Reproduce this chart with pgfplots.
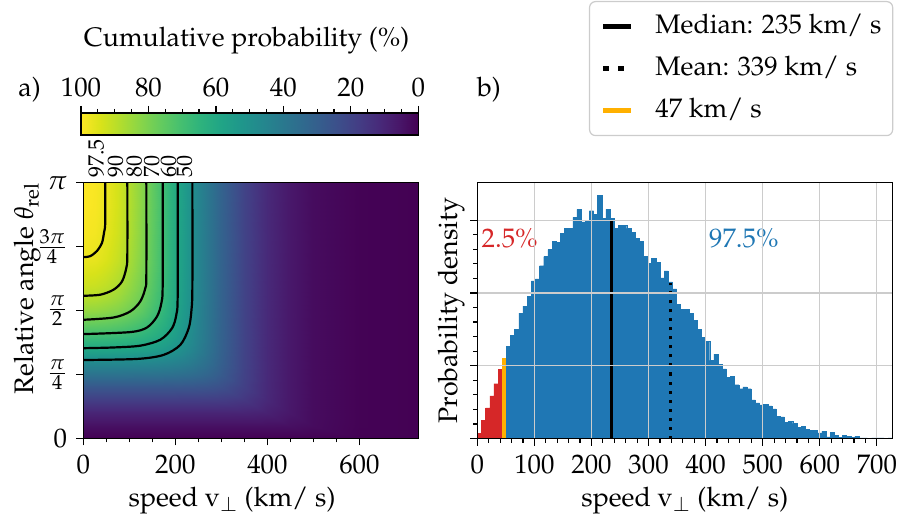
\documentclass[border=0pt]{standalone}
\usepackage[T1]{fontenc}
\usepackage{mathpazo}
\usepackage{pgfplots}
\pgfplotsset{compat=1.18}

\definecolor{histblue}{HTML}{1F77B4}
\definecolor{histred}{HTML}{D62728}
\definecolor{gold}{HTML}{FFB000}

\pgfplotsset{
  basestyle/.style={
    scale only axis,
    tick align=outside,
    major tick length=3.5pt,
    minor tick length=2pt,
    every tick/.append style={black, line width=0.6pt},
    axis line style={line width=0.6pt},
    xtick pos=left, ytick pos=left,
  },
}

\begin{document}
\fontsize{13.4}{16}\selectfont
\begin{tikzpicture}
\path[use as bounding box] (0pt,0pt) rectangle (451.5pt,259.5pt);

% ---------------- colour bar ----------------
\begin{axis}[
  at={(40.5pt,192pt)}, anchor=south west,
  width=168.65pt, height=11pt, scale only axis,
  xmin=0, xmax=100, ymin=0, ymax=1, x dir=reverse,
  colormap/viridis, point meta min=0, point meta max=100,
  ytick=\empty,
  xtick={0,20,...,100}, minor x tick num=3,
  xtick pos=right, xticklabel pos=right,
  tick align=outside, major tick length=3.5pt, minor tick length=2pt,
  every tick/.append style={black, line width=0.6pt},
  axis line style={line width=0.6pt},
  xlabel={Cumulative probability (\%)},
  xlabel style={at={(axis description cs:0.491,4.0)}, anchor=base},
  axis on top,
]
\addplot[surf, shader=interp, mesh/cols=11, mesh/rows=2, point meta=x]
  table[row sep=\\] {
  x y \\
  0 0 \\ 10 0 \\ 20 0 \\ 30 0 \\ 40 0 \\ 50 0 \\ 60 0 \\ 70 0 \\ 80 0 \\ 90 0 \\ 100 0 \\
  0 1 \\ 10 1 \\ 20 1 \\ 30 1 \\ 40 1 \\ 50 1 \\ 60 1 \\ 70 1 \\ 80 1 \\ 90 1 \\ 100 1 \\
};
\end{axis}

% ---------------- a) cumulative probability map ----------------
\begin{axis}[
  basestyle,
  at={(41.65pt,40.25pt)}, anchor=south west,
  width=167.5pt, height=127.9pt,
  xmin=0, xmax=728, ymin=0, ymax=3.1416,
  colormap/viridis, point meta min=0, point meta max=100,
  xtick={0,200,400,600}, minor x tick num=3,
  ytick={0,0.785398,1.570796,2.356194,3.141593},
  yticklabels={$0$,$\frac{\pi}{4}$,$\frac{\pi}{2}$,$\frac{3\pi}{4}$,$\pi$},
  minor y tick num=3,
  xlabel={speed v$_\perp$ (km/ s)},
  ylabel={Relative angle $\theta_{\mathrm{rel}}$},
  xlabel style={at={(axis description cs:0.444,-0.2639)}, anchor=base},
  ylabel style={at={(axis description cs:-0.1501,0.586)}, anchor=base},
  axis on top, clip mode=individual,
]
\addplot[surf, shader=interp, mesh/cols=19, mesh/rows=17, point meta=explicit]
  table[x=v, y=t, meta=f, row sep=\\] {
v t f \\
0 0 0 \\ 25 0 0 \\ 50 0 0 \\ 75 0 0 \\ 100 0 0 \\ 125 0 0 \\ 150 0 0 \\ 175 0 0 \\ 200 0 0 \\ 225 0 0 \\ 250 0 0 \\ 275 0 0 \\ 300 0 0 \\ 350 0 0 \\ 400 0 0 \\ 450 0 0 \\ 500 0 0 \\ 600 0 0 \\ 728 0 0 \\
0 0.1571 4.0 \\ 25 0.1571 4.0 \\ 50 0.1571 4.0 \\ 75 0.1571 4.0 \\ 100 0.1571 4.0 \\ 125 0.1571 4.0 \\ 150 0.1571 4.0 \\ 175 0.1571 4.0 \\ 200 0.1571 4.0 \\ 225 0.1571 4.0 \\ 250 0.1571 4.0 \\ 275 0.1571 4.0 \\ 300 0.1571 4.0 \\ 350 0.1571 4.0 \\ 400 0.1571 4.0 \\ 450 0.1571 3.8 \\ 500 0.1571 2.7 \\ 600 0.1571 0.4 \\ 728 0.1571 0 \\
0 0.3142 10 \\ 25 0.3142 10 \\ 50 0.3142 10 \\ 75 0.3142 10 \\ 100 0.3142 10 \\ 125 0.3142 10 \\ 150 0.3142 10 \\ 175 0.3142 10 \\ 200 0.3142 10 \\ 225 0.3142 10 \\ 250 0.3142 10 \\ 275 0.3142 9.9 \\ 300 0.3142 9.9 \\ 350 0.3142 9.8 \\ 400 0.3142 8.9 \\ 450 0.3142 6.0 \\ 500 0.3142 2.9 \\ 600 0.3142 0.4 \\ 728 0.3142 0 \\
0 0.4712 18 \\ 25 0.4712 18 \\ 50 0.4712 18 \\ 75 0.4712 18 \\ 100 0.4712 18 \\ 125 0.4712 18 \\ 150 0.4712 18 \\ 175 0.4712 18 \\ 200 0.4712 18 \\ 225 0.4712 17.9 \\ 250 0.4712 17.9 \\ 275 0.4712 17.8 \\ 300 0.4712 17.5 \\ 350 0.4712 15.8 \\ 400 0.4712 11.1 \\ 450 0.4712 6.2 \\ 500 0.4712 2.9 \\ 600 0.4712 0.4 \\ 728 0.4712 0 \\
0 0.6283 27 \\ 25 0.6283 27 \\ 50 0.6283 27 \\ 75 0.6283 27 \\ 100 0.6283 27 \\ 125 0.6283 27 \\ 150 0.6283 26.9 \\ 175 0.6283 26.9 \\ 200 0.6283 26.8 \\ 225 0.6283 26.6 \\ 250 0.6283 26.3 \\ 275 0.6283 25.6 \\ 300 0.6283 24.2 \\ 350 0.6283 18.7 \\ 400 0.6283 11.4 \\ 450 0.6283 6.2 \\ 500 0.6283 2.9 \\ 600 0.6283 0.4 \\ 728 0.6283 0 \\
0 0.7854 37 \\ 25 0.7854 37 \\ 50 0.7854 37 \\ 75 0.7854 37 \\ 100 0.7854 36.9 \\ 125 0.7854 36.8 \\ 150 0.7854 36.7 \\ 175 0.7854 36.4 \\ 200 0.7854 36.0 \\ 225 0.7854 35.2 \\ 250 0.7854 33.9 \\ 275 0.7854 31.6 \\ 300 0.7854 28.3 \\ 350 0.7854 19.5 \\ 400 0.7854 11.5 \\ 450 0.7854 6.2 \\ 500 0.7854 2.9 \\ 600 0.7854 0.4 \\ 728 0.7854 0 \\
0 0.9425 47.5 \\ 25 0.9425 47.5 \\ 50 0.9425 47.4 \\ 75 0.9425 47.3 \\ 100 0.9425 47.1 \\ 125 0.9425 46.8 \\ 150 0.9425 46.4 \\ 175 0.9425 45.6 \\ 200 0.9425 44.3 \\ 225 0.9425 42.3 \\ 250 0.9425 39.2 \\ 275 0.9425 35.1 \\ 300 0.9425 30.1 \\ 350 0.9425 19.8 \\ 400 0.9425 11.5 \\ 450 0.9425 6.2 \\ 500 0.9425 2.9 \\ 600 0.9425 0.4 \\ 728 0.9425 0 \\
0 1.0996 59.5 \\ 25 1.0996 59.5 \\ 50 1.0996 59.3 \\ 75 1.0996 58.9 \\ 100 1.0996 58.4 \\ 125 1.0996 57.6 \\ 150 1.0996 56.3 \\ 175 1.0996 54.3 \\ 200 1.0996 51.5 \\ 225 1.0996 47.5 \\ 250 1.0996 42.6 \\ 275 1.0996 36.8 \\ 300 1.0996 30.9 \\ 350 1.0996 19.9 \\ 400 1.0996 11.5 \\ 450 1.0996 6.2 \\ 500 1.0996 2.9 \\ 600 1.0996 0.4 \\ 728 1.0996 0 \\
0 1.2566 69 \\ 25 1.2566 68.9 \\ 50 1.2566 68.5 \\ 75 1.2566 67.8 \\ 100 1.2566 66.8 \\ 125 1.2566 65.2 \\ 150 1.2566 62.9 \\ 175 1.2566 59.6 \\ 200 1.2566 55.4 \\ 225 1.2566 49.9 \\ 250 1.2566 43.9 \\ 275 1.2566 37.4 \\ 300 1.2566 31.1 \\ 350 1.2566 19.9 \\ 400 1.2566 11.5 \\ 450 1.2566 6.2 \\ 500 1.2566 2.9 \\ 600 1.2566 0.4 \\ 728 1.2566 0 \\
0 1.4137 77 \\ 25 1.4137 76.8 \\ 50 1.4137 76.2 \\ 75 1.4137 75 \\ 100 1.4137 73.3 \\ 125 1.4137 70.8 \\ 150 1.4137 67.4 \\ 175 1.4137 63 \\ 200 1.4137 57.6 \\ 225 1.4137 51.2 \\ 250 1.4137 44.6 \\ 275 1.4137 37.7 \\ 300 1.4137 31.3 \\ 350 1.4137 19.9 \\ 400 1.4137 11.5 \\ 450 1.4137 6.2 \\ 500 1.4137 2.9 \\ 600 1.4137 0.4 \\ 728 1.4137 0 \\
0 1.5708 84 \\ 25 1.5708 83.7 \\ 50 1.5708 82.7 \\ 75 1.5708 81.1 \\ 100 1.5708 78.6 \\ 125 1.5708 75.2 \\ 150 1.5708 70.7 \\ 175 1.5708 65.2 \\ 200 1.5708 59 \\ 225 1.5708 52 \\ 250 1.5708 44.9 \\ 275 1.5708 37.9 \\ 300 1.5708 31.3 \\ 350 1.5708 19.9 \\ 400 1.5708 11.5 \\ 450 1.5708 6.2 \\ 500 1.5708 2.9 \\ 600 1.5708 0.4 \\ 728 1.5708 0 \\
0 1.7279 89 \\ 25 1.7279 88.6 \\ 50 1.7279 87.3 \\ 75 1.7279 85.2 \\ 100 1.7279 82 \\ 125 1.7279 77.9 \\ 150 1.7279 72.6 \\ 175 1.7279 66.5 \\ 200 1.7279 59.8 \\ 225 1.7279 52.4 \\ 250 1.7279 45.1 \\ 275 1.7279 38 \\ 300 1.7279 31.3 \\ 350 1.7279 19.9 \\ 400 1.7279 11.5 \\ 450 1.7279 6.2 \\ 500 1.7279 2.9 \\ 600 1.7279 0.4 \\ 728 1.7279 0 \\
0 1.8850 92.5 \\ 25 1.8850 92 \\ 50 1.8850 90.5 \\ 75 1.8850 87.9 \\ 100 1.8850 84.3 \\ 125 1.8850 79.6 \\ 150 1.8850 73.8 \\ 175 1.8850 67.3 \\ 200 1.8850 60.3 \\ 225 1.8850 52.6 \\ 250 1.8850 45.2 \\ 275 1.8850 38 \\ 300 1.8850 31.4 \\ 350 1.8850 19.9 \\ 400 1.8850 11.5 \\ 450 1.8850 6.2 \\ 500 1.8850 2.9 \\ 600 1.8850 0.4 \\ 728 1.8850 0 \\
0 2.1991 97.2 \\ 25 2.1991 96.6 \\ 50 2.1991 94.7 \\ 75 2.1991 91.5 \\ 100 2.1991 87.1 \\ 125 2.1991 81.7 \\ 150 2.1991 75.3 \\ 175 2.1991 68.2 \\ 200 2.1991 60.8 \\ 225 2.1991 52.9 \\ 250 2.1991 45.3 \\ 275 2.1991 38.1 \\ 300 2.1991 31.4 \\ 350 2.1991 19.9 \\ 400 2.1991 11.5 \\ 450 2.1991 6.2 \\ 500 2.1991 2.9 \\ 600 2.1991 0.4 \\ 728 2.1991 0 \\
0 2.5133 99 \\ 25 2.5133 98.3 \\ 50 2.5133 96.2 \\ 75 2.5133 92.8 \\ 100 2.5133 88.2 \\ 125 2.5133 82.4 \\ 150 2.5133 75.7 \\ 175 2.5133 68.5 \\ 200 2.5133 60.9 \\ 225 2.5133 53 \\ 250 2.5133 45.4 \\ 275 2.5133 38.1 \\ 300 2.5133 31.4 \\ 350 2.5133 19.9 \\ 400 2.5133 11.5 \\ 450 2.5133 6.2 \\ 500 2.5133 2.9 \\ 600 2.5133 0.4 \\ 728 2.5133 0 \\
0 2.8274 99.8 \\ 25 2.8274 99.1 \\ 50 2.8274 96.9 \\ 75 2.8274 93.4 \\ 100 2.8274 88.6 \\ 125 2.8274 82.7 \\ 150 2.8274 76 \\ 175 2.8274 68.6 \\ 200 2.8274 61 \\ 225 2.8274 53 \\ 250 2.8274 45.4 \\ 275 2.8274 38.1 \\ 300 2.8274 31.4 \\ 350 2.8274 19.9 \\ 400 2.8274 11.5 \\ 450 2.8274 6.2 \\ 500 2.8274 2.9 \\ 600 2.8274 0.4 \\ 728 2.8274 0 \\
0 3.1416 100 \\ 25 3.1416 99.3 \\ 50 3.1416 97.1 \\ 75 3.1416 93.5 \\ 100 3.1416 88.7 \\ 125 3.1416 82.8 \\ 150 3.1416 76 \\ 175 3.1416 68.6 \\ 200 3.1416 61 \\ 225 3.1416 53 \\ 250 3.1416 45.4 \\ 275 3.1416 38.1 \\ 300 3.1416 31.4 \\ 350 3.1416 19.9 \\ 400 3.1416 11.5 \\ 450 3.1416 6.2 \\ 500 3.1416 2.9 \\ 600 3.1416 0.4 \\ 728 3.1416 0 \\
};

% contour lines of the cumulative probability
\addplot[black, line width=1.1pt, smooth, tension=0.5] coordinates {
  (47.8,3.1416) (47.8,2.711) (47.1,2.589) (45,2.526) (40.6,2.403) (29.7,2.303) (15.2,2.240) (0,2.227)};
\addplot[black, line width=1.1pt, smooth, tension=0.5] coordinates {
  (95.7,3.1416) (95.7,2.259) (93.5,2.095) (84.1,1.929) (65.9,1.828) (36.9,1.766) (0,1.753)};
\addplot[black, line width=1.1pt, smooth, tension=0.5] coordinates {
  (137,3.1416) (137,2.011) (134.8,1.847) (123.9,1.684) (102.2,1.561) (65.9,1.486) (0,1.458)};
\addplot[black, line width=1.1pt, smooth, tension=0.5] coordinates {
  (172.5,3.1416) (172.5,1.888) (169.6,1.662) (160.2,1.499) (138.4,1.363) (102.2,1.307) (0,1.282)};
\addplot[black, line width=1.1pt, smooth, tension=0.5] coordinates {
  (205.1,3.1416) (205.1,1.766) (202.2,1.521) (192.8,1.354) (167.4,1.213) (123.9,1.140) (65.9,1.118) (0,1.109)};
\addplot[black, line width=1.1pt, smooth, tension=0.5] coordinates {
  (237,3.1416) (237,1.847) (234.8,1.561) (229,1.354) (210.9,1.150) (174.6,1.027) (116.7,0.977) (0,0.964)};

% contour labels above the frame
\begin{scope}[every node/.style={font=\fontsize{11}{13}\selectfont, inner sep=0pt}]
\node[yshift=2.3pt, rotate=90, anchor=base west] at (axis cs:44,3.1416) {97.5};
\node[yshift=2.3pt, rotate=90, anchor=base west] at (axis cs:86,3.1416) {90};
\node[yshift=2.3pt, rotate=90, anchor=base west] at (axis cs:127,3.1416) {80};
\node[yshift=2.3pt, rotate=90, anchor=base west] at (axis cs:165,3.1416) {70};
\node[yshift=2.3pt, rotate=90, anchor=base west] at (axis cs:201,3.1416) {60};
\node[yshift=2.3pt, rotate=90, anchor=base west] at (axis cs:236,3.1416) {50};
\end{scope}
\end{axis}

% ---------------- b) speed histogram ----------------
\begin{axis}[
  basestyle,
  at={(238.65pt,40.25pt)}, anchor=south west,
  width=207.5pt, height=127.9pt,
  xmin=0, xmax=727, ymin=0, ymax=3.515,
  xtick={0,100,...,700}, minor x tick num=4,
  ytick={0,1,2,3}, yticklabels={}, minor y tick num=4,
  grid=major, major grid style={draw=black!20, line width=0.6pt},
  xlabel={speed v$_\perp$ (km/ s)},
  ylabel={Probability density},
  xlabel style={at={(axis description cs:0.5,-0.2639)}, anchor=base},
  ylabel style={at={(axis description cs:-0.0489,0.5)}, anchor=base},
  axis on top, clip mode=individual,
  legend cell align=left,
  legend image code/.code={\draw[#1] (0pt,0pt) -- (14pt,0pt);},
  legend style={
    at={(axis description cs:1.0024,1.7103)}, anchor=north east,
    draw=black!20, line width=0.6pt, rounded corners=3pt, fill=white,
    inner xsep=5.6pt, inner ysep=6pt, row sep=8.3pt,
    nodes={inner sep=0pt, text height=9.8pt, text depth=3pt},
    /tikz/every odd column/.append style={column sep=10.8pt},
  },
]
% slowest 2.5 %
\addplot[ybar interval, fill=histred, draw=histred, line width=0.2pt, forget plot] coordinates {
  (0,0.07) (7.27,0.245) (14.54,0.42) (21.81,0.587) (29.08,0.753) (36.35,0.947) (43.62,1.10) (47,0)};
% remaining 97.5 %
\addplot[ybar interval, fill=histblue, draw=histblue, line width=0.2pt, forget plot] coordinates {
  (47,1.10) (50.89,1.266) (58.16,1.418) (65.43,1.50) (72.70,1.723) (79.97,1.82) (87.24,1.958)
  (94.51,2.166) (101.78,2.194) (109.05,2.374) (116.32,2.499) (123.59,2.596) (130.86,2.707)
  (138.13,2.693) (145.40,2.818) (152.67,2.887) (159.94,2.887) (167.21,3.039) (174.48,3.15)
  (181.75,2.975) (189.02,2.99) (196.29,3.13) (203.56,3.08) (210.83,3.344) (218.10,3.025)
  (225.37,3.15) (232.64,3.025) (239.91,2.887) (247.18,2.928) (254.45,2.928) (261.72,2.887)
  (268.99,2.831) (276.26,2.748) (283.53,2.707) (290.80,2.499) (298.07,2.402) (305.34,2.471)
  (312.61,2.416) (319.88,2.208) (327.15,2.305) (334.42,2.152) (341.69,2.055) (348.96,1.848)
  (356.23,1.778) (363.50,1.778) (370.77,1.718) (378.04,1.626) (385.31,1.501) (392.58,1.386)
  (399.85,1.335) (407.12,1.072) (414.39,1.159) (421.66,1.016) (428.93,0.956) (436.20,0.841)
  (443.47,0.85) (450.74,0.739) (458.01,0.684) (465.28,0.711) (472.55,0.684) (479.82,0.531)
  (487.09,0.49) (494.36,0.462) (501.63,0.467) (508.90,0.448) (516.17,0.406) (523.44,0.309)
  (530.71,0.296) (537.98,0.226) (545.25,0.24) (552.52,0.207) (559.79,0.156) (567.06,0.17)
  (574.33,0.128) (581.60,0.115) (588.87,0.115) (596.14,0.078) (603.41,0.101) (610.68,0.023)
  (617.95,0.083) (625.22,0.046) (632.49,0.018) (639.76,0.046) (647.03,0.032) (654.30,0.018)
  (661.57,0.032) (668.84,0.008) (676.11,0.008) (683.38,0.005) (690.65,0.008) (697.92,0.008)
  (705.19,0.008) (712.46,0.004) (719.73,0.008) (727,0)};
% threshold, median and mean
\addplot[gold, line width=2.1pt, forget plot] coordinates {(47,0) (47,1.10)};
\addplot[black, line width=1.8pt, forget plot] coordinates {(235,0) (235,2.99)};
\addplot[black, line width=1.5pt, dash pattern=on 1.5pt off 3pt, forget plot] coordinates {(339,0) (339,2.13)};

\addlegendimage{black, line width=2.5pt}
\addlegendentry{Median: 235 km/ s}
\addlegendimage{black, line width=2.4pt, dash pattern=on 3pt off 4.5pt}
\addlegendentry{Mean: 339 km/ s}
\addlegendimage{gold, line width=2.5pt}
\addlegendentry{47 km/ s}

\node[anchor=base west, text=histred, inner sep=0pt] at (axis cs:7,2.62) {2.5\%};
\node[anchor=base west, text=histblue, inner sep=0pt] at (axis cs:405.5,2.62) {97.5\%};
\end{axis}

% panel letters
\node[anchor=base west, inner sep=0pt] at (9pt,211pt) {a)};
\node[anchor=base west, inner sep=0pt] at (238.35pt,211pt) {b)};
\end{tikzpicture}
\end{document}
